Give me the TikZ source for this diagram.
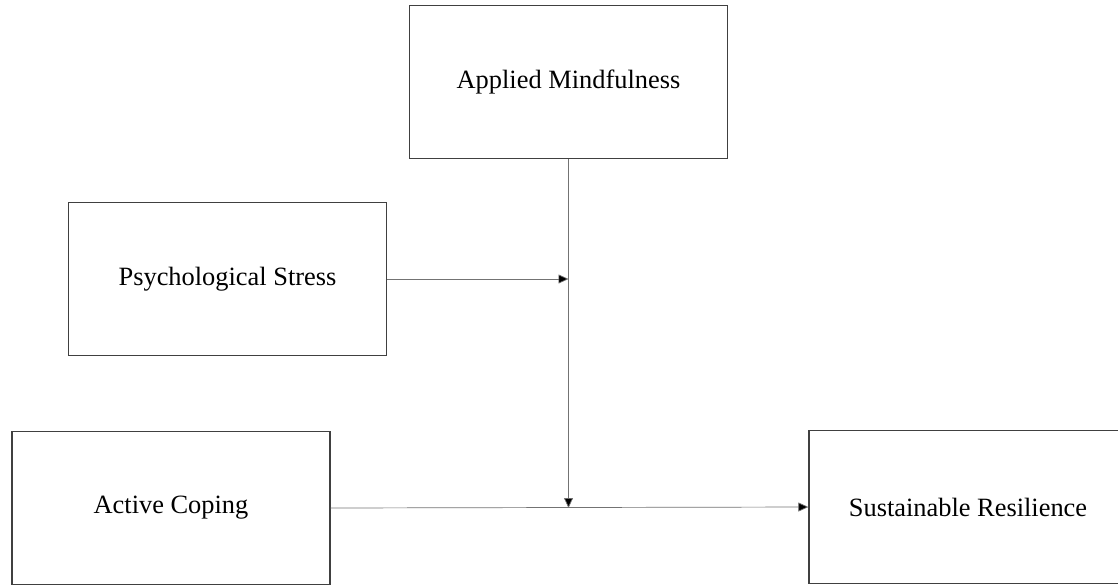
\documentclass[tikz,border=0pt]{standalone}
\usepackage{fontspec}
\setmainfont{Liberation Serif}
\usetikzlibrary{arrows.meta}

\begin{document}
\begin{tikzpicture}[x=0.5pt,y=-0.5pt]

  % One unit = one pixel of the page, y running downwards.
  \useasboundingbox (0,0) rectangle (1118,584);

  \tikzset{varbox/.style={draw=black!75, line width=0.65pt, fill=white,
      minimum width=159pt, minimum height=76.5pt, inner sep=0pt,
      font=\fontsize{13.2pt}{15pt}\selectfont},
    link/.style={draw=black!55, line width=0.35pt,
      -{Triangle[length=5pt,width=4.5pt,fill=black]}}}

  % The four variables, placed at their centres
  \node[varbox] (mind)   at (568.5,82) {Applied Mindfulness};
  \node[varbox] (stress) at (227.5,279) {Psychological Stress};
  \node[varbox] (coping) at (171,508)  {Active Coping};
  \node[varbox] (resil)  at (968,507)  {Sustainable Resilience};

  % Meeting points on the moderator's line
  \coordinate (meetstress) at (mind.south |- stress.east);
  \coordinate (meetcoping) at (mind.south |- coping.east);

  % Connectors
  \draw[link] (stress.east) -- (meetstress);
  \draw[link] (mind.south) -- (meetcoping);
  \draw[link] (coping.east) -- (resil.west);

\end{tikzpicture}
\end{document}
